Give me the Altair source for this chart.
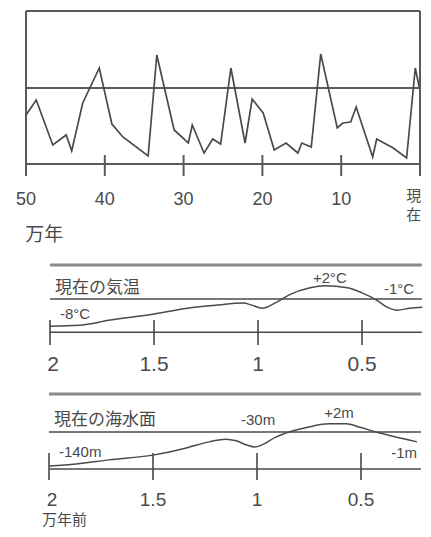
import altair as alt
import pandas as pd

# ---------------- data ----------------
# top panel: past 500,000 years (万年)
top_age = [50, 48.7, 46.6, 44.9, 44.2, 42.8, 40.7, 39.1, 37.7, 34.5, 33.4, 31.2,
           29.4, 28.9, 27.4, 26.3, 25.3, 24.0, 22.2, 21.3, 19.9, 18.5, 17.0, 15.5,
           15.0, 13.8, 12.6, 10.5, 9.8, 8.8, 8.1, 6.0, 5.5, 3.4, 1.7, 0.6, 0.1]
top_val = [-2.7, -1.2, -5.7, -4.7, -6.3, -1.5, 2.0, -3.6, -4.9, -6.8, 3.3, -4.2,
           -5.5, -3.7, -6.5, -5.1, -5.6, 2.0, -5.5, -1.1, -2.5, -6.2, -5.5, -6.5,
           -5.5, -5.9, 3.4, -4.0, -3.5, -3.4, -1.9, -6.9, -5.1, -6.0, -7.0, 2.0, 0.1]
top_ticks = [50, 40, 30, 20, 10]
top_tick_labels = ["50", "40", "30", "20", "10"]

# middle panel: temperature, past 20,000 years
mid_age = [2.0, 1.86, 1.71, 1.5, 1.34, 1.2, 1.07, 1.03, 0.98, 0.91, 0.85, 0.75,
           0.68, 0.57, 0.5, 0.43, 0.38, 0.33, 0.27, 0.21]
mid_val = [-8.0, -7.7, -6.2, -4.4, -2.7, -1.8, -1.2, -1.8, -2.7, -0.9, 1.2, 3.3,
           3.9, 3.3, 1.8, -0.3, -2.4, -3.3, -2.7, -2.4]

# bottom panel: sea level, past 20,000 years
bot_age = [2.0, 1.87, 1.71, 1.5, 1.34, 1.23, 1.15, 1.10, 1.05, 1.01, 0.976, 0.91,
           0.846, 0.75, 0.654, 0.572, 0.51, 0.428, 0.351, 0.231]
bot_val = [-10.0, -9.4, -8.2, -6.8, -4.7, -2.9, -2.1, -2.6, -3.8, -4.4, -3.8, -1.5,
           0.0, 1.5, 2.4, 2.4, 1.5, 0.0, -1.2, -2.9]

low_ticks = [2, 1.5, 1, 0.5]
low_tick_labels = ["2", "1.5", "1", "0.5"]

mid_notes = ["-8°C", "+2°C", "-1°C"]
mid_note_x = [1.88, 0.654, 0.322]
mid_note_y = [-4.4, 6.2, 2.9]
bot_notes = ["-140m", "-30m", "+2m", "-1m"]
bot_note_x = [1.85, 0.995, 0.606, 0.293]
bot_note_y = [-5.9, 3.5, 5.6, -6.2]

# ---------------- styles ----------------
INK = "#4a4a4a"
NUMFONT = "Liberation Sans Narrow, Liberation Sans, sans-serif"
JPFONT = "Noto Sans CJK JP"

# ---------------- scales ----------------
tx = alt.Scale(domain=[50, 0], range=[18, 412])
ty = alt.Scale(domain=[-7.6, 7.7], range=[156, 3])
mx = alt.Scale(domain=[2, 0], range=[42, 458])
my = alt.Scale(domain=[-10, 10], range=[325, 257])
bx = alt.Scale(domain=[2, 0], range=[41, 457])
by = alt.Scale(domain=[-11, 11], range=[461.4, 386.6])


def segs(xs, x2s, ys, y2s, xs_scale, ys_scale, color, width):
    df = pd.DataFrame({"x": xs, "x2": x2s, "y": ys, "y2": y2s})
    return alt.Chart(df).mark_rule(color=color, strokeWidth=width).encode(
        x=alt.X("x:Q", scale=xs_scale, axis=None),
        x2="x2:Q",
        y=alt.Y("y:Q", scale=ys_scale, axis=None),
        y2="y2:Q",
    )


def texts(labels, xs, ys, xs_scale, ys_scale, size, font, align="center", **kw):
    df = pd.DataFrame({"t": labels, "x": xs, "y": ys})
    return alt.Chart(df).mark_text(
        fontSize=size, font=font, color=INK, align=align, baseline="middle", **kw
    ).encode(
        x=alt.X("x:Q", scale=xs_scale, axis=None),
        y=alt.Y("y:Q", scale=ys_scale, axis=None),
        text="t:N",
    )


# ---------------- top panel ----------------
top_df = pd.DataFrame({"age": top_age, "val": top_val})
top_line = alt.Chart(top_df).mark_line(color=INK, strokeWidth=1.7).encode(
    x=alt.X("age:Q", scale=tx, axis=None),
    y=alt.Y("val:Q", scale=ty, axis=None),
    order="index:Q",
).transform_window(index="row_number()")

top_frame = segs([50, 50, 0, 50, 50], [0, 50, 0, 0, 0],
                 [7.7, 7.7, 7.7, 0, -7.6], [7.7, -8.8, -8.8, 0, -7.6],
                 tx, ty, "#5a5a5a", 2)
top_tk = segs(top_ticks[1:], top_ticks[1:], [-6.7] * 4, [-8.8] * 4, tx, ty, "#5a5a5a", 2)
top_lab = texts(top_tick_labels, top_ticks, [-11.2] * 5, tx, ty, 18, NUMFONT)
top_now = texts(["現", "在"], [0.8, 0.8], [-10.8, -12.7], tx, ty, 15, JPFONT)
top_unit = texts(["万年"], [50.1], [-14.7], tx, ty, 19, JPFONT, align="left")

top_panel = alt.layer(top_frame, top_tk, top_line, top_lab, top_now, top_unit)

# ---------------- middle panel ----------------
mid_df = pd.DataFrame({"age": mid_age, "val": mid_val})
mid_line = alt.Chart(mid_df).mark_line(color=INK, strokeWidth=1.5, interpolate="monotone").encode(
    x=alt.X("age:Q", scale=mx, axis=None),
    y=alt.Y("val:Q", scale=my, axis=None),
    order="index:Q",
).transform_window(index="row_number()")
mid_top = segs([2], [0.212], [10], [10], mx, my, "#8a8a8a", 3)
mid_lines = segs([2, 2], [0.212, 0.212], [0, -9.8], [0, -9.8], mx, my, INK, 1.6)
mid_tk = segs(low_ticks, low_ticks, [-6.2] * 4, [-13.5] * 4, mx, my, INK, 1.6)
mid_lab = texts(low_tick_labels, [1.985, 1.5, 1, 0.5], [-19.4] * 4, mx, my, 21, NUMFONT)
mid_title = texts(["現在の気温"], [1.976], [3.2], mx, my, 17, JPFONT, align="left")
mid_note = texts(mid_notes, mid_note_x, mid_note_y, mx, my, 15, NUMFONT)

mid_panel = alt.layer(mid_top, mid_lines, mid_tk, mid_line, mid_lab, mid_title, mid_note)

# ---------------- bottom panel ----------------
bot_df = pd.DataFrame({"age": bot_age, "val": bot_val})
bot_line = alt.Chart(bot_df).mark_line(color=INK, strokeWidth=1.5, interpolate="monotone").encode(
    x=alt.X("age:Q", scale=bx, axis=None),
    y=alt.Y("val:Q", scale=by, axis=None),
    order="index:Q",
).transform_window(index="row_number()")
bot_top = segs([2], [0.212], [11.2], [11.2], bx, by, "#8a8a8a", 3)
bot_lines = segs([2, 2], [0.212, 0.212], [0, -10.9], [0, -10.9], bx, by, INK, 1.6)
bot_tk = segs(low_ticks, low_ticks, [-6.2] * 4, [-14.1] * 4, bx, by, INK, 1.6)
bot_lab = texts(low_tick_labels, [1.985, 1.5, 1, 0.5], [-20.0] * 4, bx, by, 19, NUMFONT)
bot_title = texts(["現在の海水面"], [1.976], [3.5], bx, by, 17, JPFONT, align="left")
bot_note = texts(bot_notes, bot_note_x, bot_note_y, bx, by, 15, NUMFONT)
bot_unit = texts(["万年前"], [2.034], [-25.9], bx, by, 15, JPFONT, align="left")

bot_panel = alt.layer(bot_top, bot_lines, bot_tk, bot_line, bot_lab, bot_title, bot_note, bot_unit)

chart = alt.layer(top_panel, mid_panel, bot_panel).resolve_scale(
    x="independent", y="independent"
).properties(
    width=415, height=521, autosize=alt.AutoSizeParams(type="none"), padding=0,
    background="white",
).configure_view(strokeWidth=0)

chart.save("out.html", embed_options={"renderer": "svg", "actions": False})
